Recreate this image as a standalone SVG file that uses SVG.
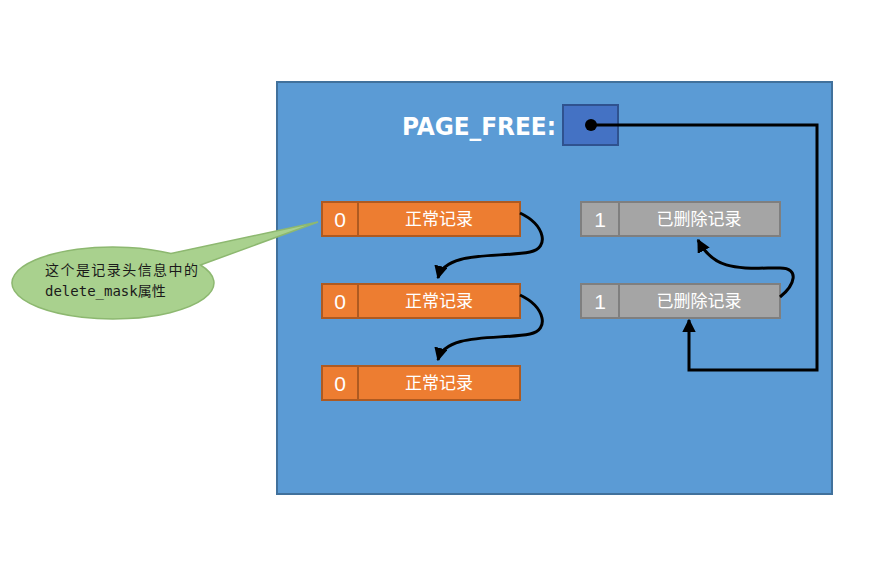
<svg xmlns="http://www.w3.org/2000/svg" width="875" height="564" viewBox="0 0 875 564">
<style>
.or{fill:#ED7D31;stroke:#AE5A21;stroke-width:2}
.gr{fill:#A5A5A5;stroke:#7F7F7F;stroke-width:2}
.t{fill:#fff;font-family:"Noto Sans CJK SC","Liberation Sans",sans-serif;font-size:17px;text-anchor:middle}
.n{fill:#fff;font-family:"Liberation Sans",sans-serif;font-size:21px;text-anchor:middle}
.c{fill:none;stroke:#000;stroke-width:3}
</style>
<defs>
<marker id="ah" viewBox="0 0 10 10" refX="9" refY="5" markerWidth="4.5" markerHeight="4.5" orient="auto" markerUnits="strokeWidth">
<path d="M0,0 L10,5 L0,10 z" fill="#000"/>
</marker>
</defs>
<rect width="875" height="564" fill="#fff"/>
<g id="page">
<rect x="277" y="82" width="555" height="412" fill="#5B9BD5" stroke="#41719C" stroke-width="2"/>
</g>
<g id="page_free">
<text x="556" y="135" fill="#fff" font-family="'DejaVu Sans Condensed','Liberation Sans',sans-serif" font-weight="bold" font-size="25" text-anchor="end" textLength="154" lengthAdjust="spacingAndGlyphs">PAGE_FREE:</text>
<rect x="563" y="105" width="55" height="40" fill="#4472C4" stroke="#2F528F" stroke-width="2"/>
<circle cx="591" cy="125" r="6" fill="#000"/>
</g>
<g id="rec1">
<rect class="or" x="322" y="202" width="36" height="34"/><rect class="or" x="358" y="202" width="162" height="34"/>
<text class="n" x="340" y="227">0</text><text class="t" x="439" y="225">正常记录</text>
</g>
<g id="rec2">
<rect class="or" x="322" y="284" width="36" height="34"/><rect class="or" x="358" y="284" width="162" height="34"/>
<text class="n" x="340" y="309">0</text><text class="t" x="439" y="307">正常记录</text>
</g>
<g id="rec3">
<rect class="or" x="322" y="366" width="36" height="34"/><rect class="or" x="358" y="366" width="162" height="34"/>
<text class="n" x="340" y="391">0</text><text class="t" x="439" y="389">正常记录</text>
</g>
<g id="del1">
<rect class="gr" x="581" y="202" width="38" height="34"/><rect class="gr" x="619" y="202" width="161" height="34"/>
<text class="n" x="600" y="227">1</text><text class="t" x="699" y="225">已删除记录</text>
</g>
<g id="del2">
<rect class="gr" x="581" y="284" width="38" height="34"/><rect class="gr" x="619" y="284" width="161" height="34"/>
<text class="n" x="600" y="309">1</text><text class="t" x="699" y="307">已删除记录</text>
</g>
<g id="callout">
<path d="M318,222 L171,253.5 A101,36 0 1 0 200.5,265 Z" fill="#A9D18E" stroke="#8DB870" stroke-width="1.5"/>
<text font-family="'DejaVu Sans Mono','Noto Sans CJK SC',monospace" font-size="14" fill="#1a1a1a">
<tspan x="45" y="275" textLength="153">这个是记录头信息中的</tspan>
<tspan x="45" y="296">delete_mask属性</tspan>
</text>
</g>
<g id="connectors">
<path class="c" d="M520,213 C545,225 550,248 530,252 C500,258 445,250 438,278" marker-end="url(#ah)"/>
<path class="c" d="M520,295 C545,307 550,330 530,334 C500,340 445,332 438,360" marker-end="url(#ah)"/>
<path class="c" d="M780,297 C795,285 800,268 780,268 C740,268 715,272 698,240" marker-end="url(#ah)"/>
<path class="c" d="M591,125 L817,125 L817,370 L689,370 L689,320" marker-end="url(#ah)"/>
</g>
</svg>
